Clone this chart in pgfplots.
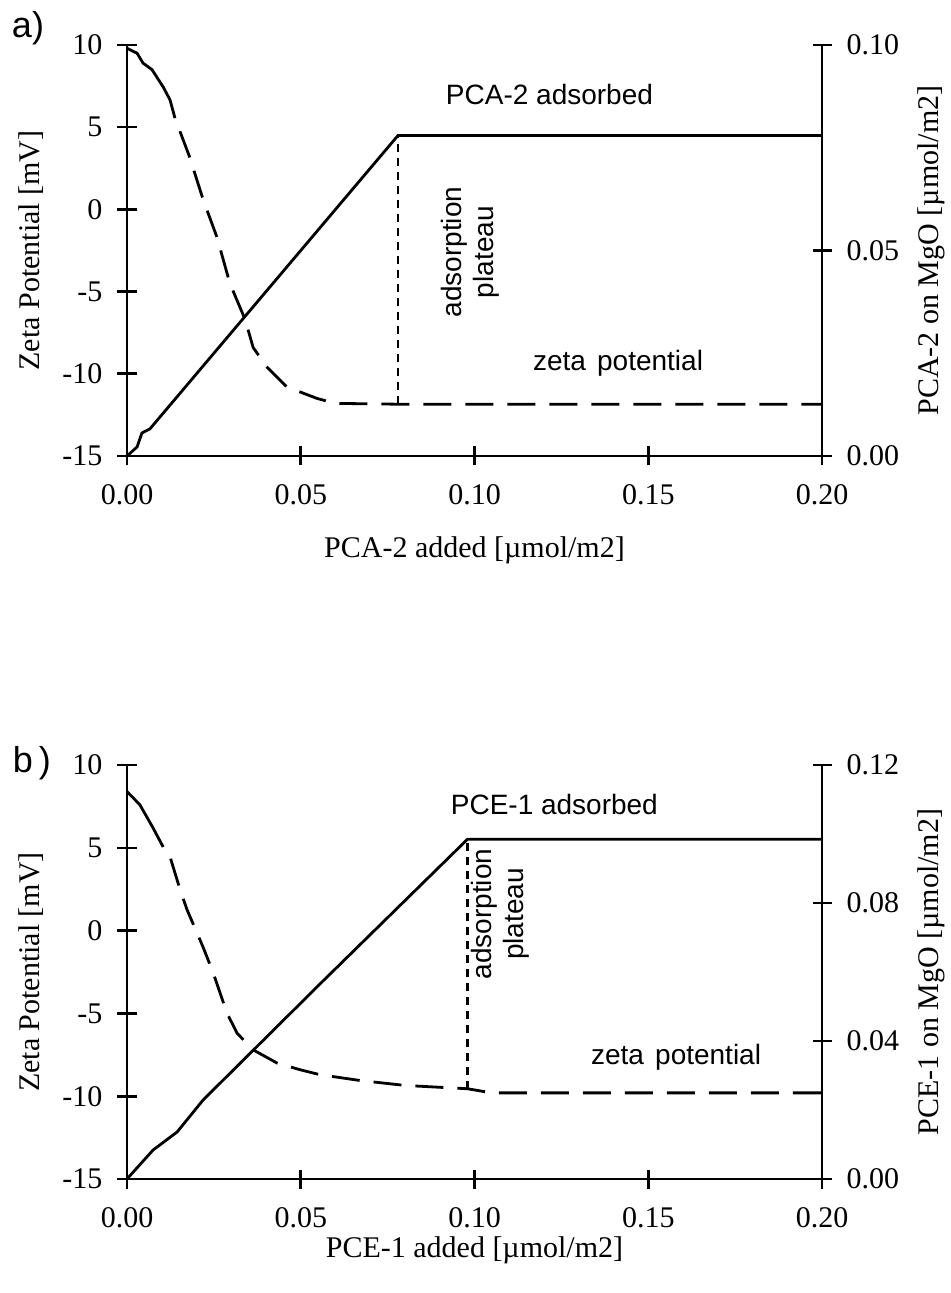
\documentclass[border=0pt]{standalone}
\usepackage{fontspec}
\setmainfont{Liberation Serif}
\newfontfamily\arialfont{Liberation Sans}
\usepackage{pgfplots}
\pgfplotsset{compat=1.18}
\usetikzlibrary{calc}

% zeta potential (left axis): first stretch drawn solid, the rest dashed
\pgfplotstableread{
x y
0      9.8
0.0029 9.5
0.0046 8.9
0.0072 8.5
0.0104 7.45
0.0124 6.65
0.0138 5.55
}\zetaAa
\pgfplotstableread{
x y
0.0138 5.55
0.018  3.2
0.0219 0.6
0.0259 -1.7
0.0296 -4.5
0.034  -6.7
0.0363 -8.4
0.0403 -9.6
0.046  -10.8
0.0547 -11.5
0.060  -11.8
0.078  -11.85
0.2    -11.85
}\zetaAb
% adsorbed amount (right axis)
\pgfplotstableread{
x y
0      0
0.0029 0.0022
0.0043 0.0056
0.0066 0.0066
0.078  0.078
0.2    0.078
}\adsA
\pgfplotstableread{
x y
0      8.4
0.0037 7.6
0.0075 6.2
0.0104 5.05
}\zetaBa
\pgfplotstableread{
x y
0.0104 5.05
0.0124 4.45
0.0153 2.45
0.0173 1.25
0.0219 -1.0
0.0248 -2.55
0.0288 -5.0
0.0317 -6.2
0.0363 -7.2
0.0432 -8.0
0.0498 -8.4
0.0555 -8.7
0.067  -9.05
0.080  -9.35
0.098  -9.55
0.105  -9.8
0.2    -9.8
}\zetaBb
\pgfplotstableread{
x y
0      0
0.0075 0.0084
0.0144 0.0136
0.0219 0.0229
0.0555 0.0565
0.098  0.0985
0.2    0.0985
}\adsB

\newcommand{\tickfont}{\fontsize{15}{18}\selectfont}
\newcommand{\notefont}{\arialfont\fontsize{14}{16}\selectfont}

\pgfplotsset{
  panel/.style={
    scale only axis, width=347.5pt,
    xmin=0, xmax=0.2,
    axis line style={line width=1.3pt},
    tick style={line width=1.3pt, black},
    tick align=center, major tick length=9.5pt,
    every tick label/.append style={font=\tickfont},
    clip=false,
  },
  leftax/.style={
    panel,
    axis x line*=bottom, axis y line*=left,
    ymin=-15, ymax=10,
    ytick={-15,-10,-5,0,5,10},
    yticklabels={-15,-10,-5,0,5,10},
    xtick={0,0.05,0.1,0.15,0.2},
    xticklabels={0.00,0.05,0.10,0.15,0.20},
    xticklabel style={yshift=-6pt},
    yticklabel style={xshift=-4pt},
  },
  rightax/.style={
    panel,
    axis x line=none, axis y line*=right,
    yticklabel style={xshift=4pt},
  },
  zeta/.style={line width=1.4pt, dash pattern=on 14pt off 7pt, dash phase=14pt},
  zetasolid/.style={line width=1.4pt},
  ads/.style={line width=1.4pt},
  plat/.style={line width=1.1pt, dash pattern=on 4pt off 3pt},
}

\begin{document}
\begin{tikzpicture}
\path[use as bounding box] (-63.5pt,22.5pt) rectangle (411.5pt,-624pt);

% ---- panel a ----
\begin{axis}[leftax, name=a1, height=205.5pt, at={(0,0)}, anchor=north west]
  \addplot[zetasolid] table {\zetaAa};
  \addplot[zeta] table {\zetaAb};
  \addplot[plat] coordinates {(0.078,-11.85) (0.078,4.5)};
  \node[anchor=east, font=\notefont] at (axis cs:0.1534,7.0) {PCA-2 adsorbed};
  \node[anchor=east, font=\notefont] at (axis cs:0.1678,-9.34) {zeta\hspace{0.4em}potential};
  \node[rotate=90, align=center, font=\notefont] at (axis cs:0.0987,-2.6) {adsorption\\plateau};
\end{axis}
\begin{axis}[rightax, height=205.5pt, at={(0,0)}, anchor=north west,
  ymin=0, ymax=0.1, ytick={0,0.05,0.1}, yticklabels={0.00,0.05,0.10}]
  \addplot[ads] table {\adsA};
\end{axis}
\node[rotate=90, font=\tickfont] at ($(a1.west)+(-48pt,0)$) {Zeta Potential [mV]};
\node[rotate=90, font=\tickfont] at ($(a1.east)+(54.5pt,0)$) {PCA-2 on MgO [µmol/m2]};
\node[font=\tickfont] at ($(a1.south)+(0,-47pt)$) {PCA-2 added [µmol/m2]};
\node[font=\arialfont\fontsize{18}{20}\selectfont] at (-49.5pt,8.5pt) {a)};

% ---- panel b ----
\begin{axis}[leftax, name=b1, height=207pt, at={(0,-360pt)}, anchor=north west]
  \addplot[zetasolid] table {\zetaBa};
  \addplot[zeta] table {\zetaBb};
  \addplot[plat] coordinates {(0.098,-9.55) (0.098,5.52)};
  \node[anchor=east, font=\notefont] at (axis cs:0.1548,7.6) {PCE-1 adsorbed};
  \node[anchor=east, font=\notefont] at (axis cs:0.1845,-7.63) {zeta\hspace{0.4em}potential};
  \node[rotate=90, align=center, font=\notefont] at (axis cs:0.1073,1.0) {adsorption\\plateau};
\end{axis}
\begin{axis}[rightax, height=207pt, at={(0,-360pt)}, anchor=north west,
  ymin=0, ymax=0.12, ytick={0,0.04,0.08,0.12}, yticklabels={0.00,0.04,0.08,0.12}]
  \addplot[ads] table {\adsB};
\end{axis}
\node[rotate=90, font=\tickfont] at ($(b1.west)+(-48pt,0)$) {Zeta Potential [mV]};
\node[rotate=90, font=\tickfont] at ($(b1.east)+(54.5pt,0)$) {PCE-1 on MgO [µmol/m2]};
\node[font=\tickfont] at ($(b1.south)+(0,-35.5pt)$) {PCE-1 added [µmol/m2]};
\node[font=\arialfont\fontsize{18}{20}\selectfont] at (-47.5pt,-359pt) {b\,)};
\end{tikzpicture}
\end{document}
